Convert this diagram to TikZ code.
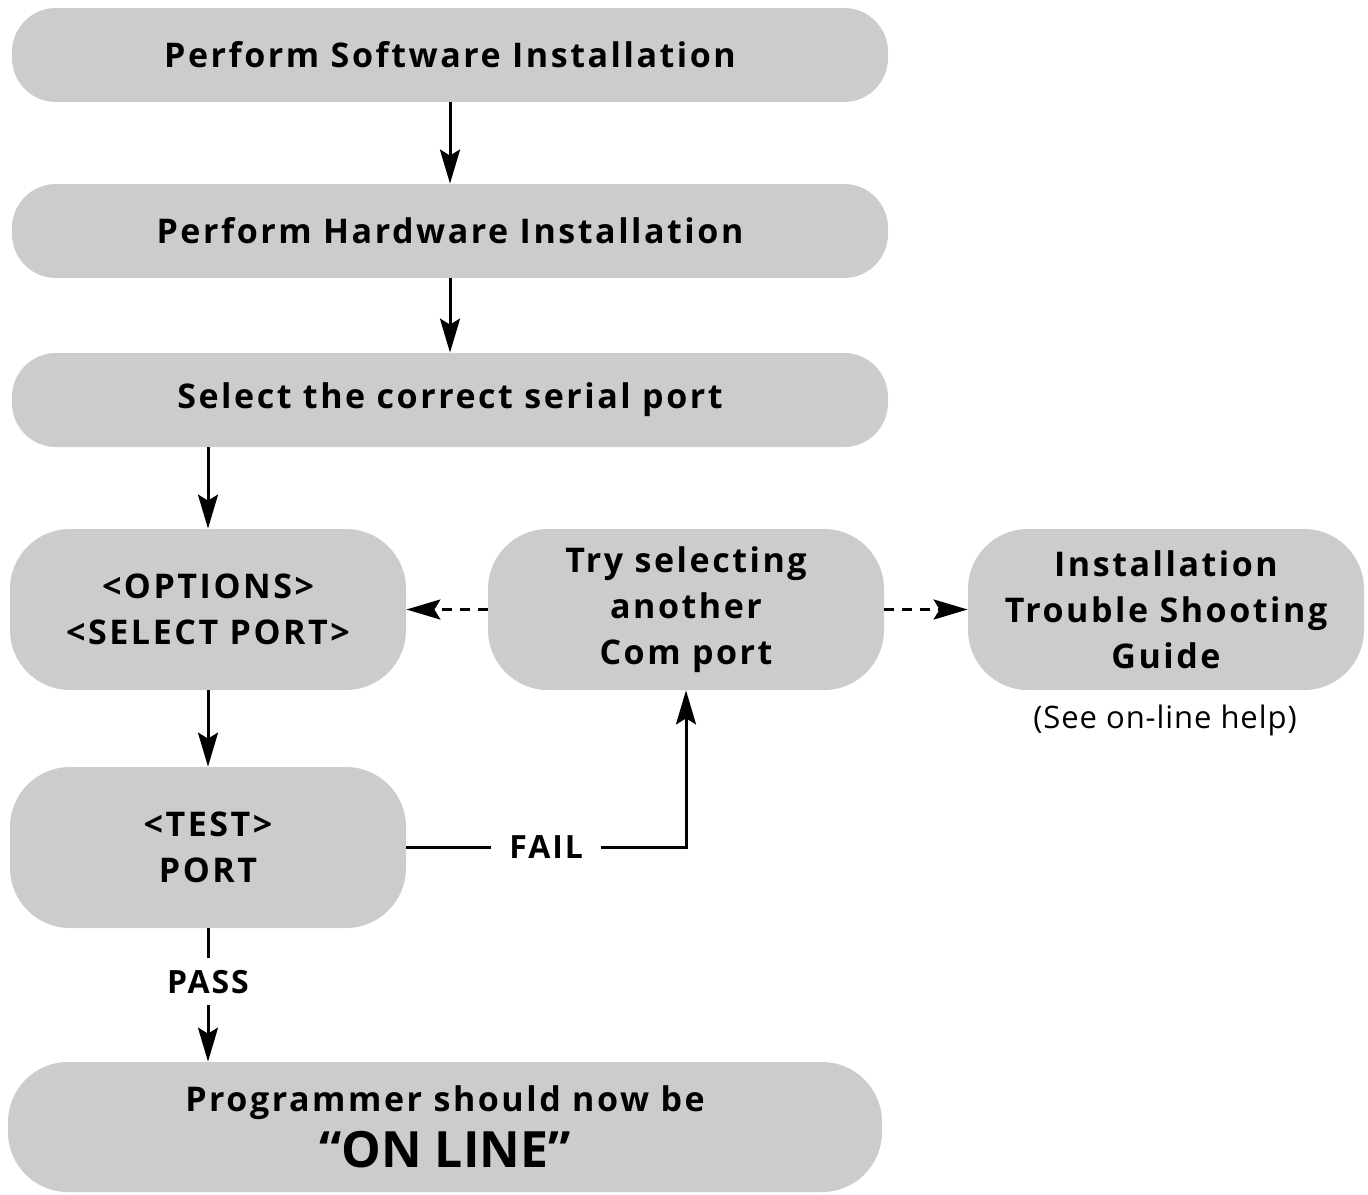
\documentclass[tikz,border=0pt]{standalone}
\usepackage{fontspec}
\setmainfont{Open Sans}
\usetikzlibrary{arrows.meta}

\begin{document}
\begin{tikzpicture}[x=0.5pt,y=-0.5pt]
\tikzstyle{passo} = [fill=gray!40, rounded corners=22pt, align=center, inner sep=0pt,
  font=\bfseries\fontsize{17}{23}\selectfont\addfontfeatures{LetterSpace=7.5}]
\tikzstyle{largo} = [passo, minimum width=438pt, minimum height=47pt]
\tikzstyle{alto} = [passo, rounded corners=30pt, minimum width=198pt, minimum height=80.5pt]
\tikzstyle{freccia} = [-{Stealth[length=17pt,width=10pt,inset=3pt]}, line width=1.5pt]
\tikzstyle{tratteggio} = [freccia, dash pattern=on 5pt off 4pt]
\tikzstyle{etichetta} = [fill=white, inner xsep=9pt,
  font=\bfseries\fontsize{16}{20}\selectfont\addfontfeatures{LetterSpace=6}]
\useasboundingbox (0,0) rectangle (1368,1194);
\node[largo] (sw) at (450,55) {Perform Software Installation};
\node[largo] (hw) at (450,231) {Perform Hardware Installation};
\node[largo] (port) at (450,400) {Select the correct serial port};
\node[alto] (opt) at (208,609.5) {<OPTIONS>\\<SELECT PORT>};
\node[alto] (try) at (686,609.5) {Try selecting\\another\\Com port};
\node[alto] (guide) at (1166,609.5) {Installation\\Trouble Shooting\\Guide};
\node[font=\fontsize{15.5}{18}\selectfont\addfontfeatures{LetterSpace=3}] (help) at (1165,720) {(See on-line help)};
\node[alto] (test) at (208,847.5) {<TEST>\\PORT};
\node[passo, rounded corners=30pt, minimum width=437pt, minimum height=65pt] (online) at (445,1127)
  {Programmer should now be\\[5pt]{\fontsize{25}{28}\selectfont\addfontfeatures{LetterSpace=0} “ON LINE”}};
\draw[freccia] (sw) -- (hw);
\draw[freccia] (hw) -- (port);
\draw[freccia] (port.south -| opt.north) -- (opt);
\draw[freccia] (opt) -- (test);
\draw[tratteggio] (try) -- (opt);
\draw[tratteggio] (try) -- (guide);
\draw[freccia] (test.east) -- node[etichetta] (fail) {FAIL} (test.east -| try.south) -- (try);
\draw[freccia] (test) -- node[etichetta, pos=0.4, inner xsep=3pt, inner ysep=6pt] (pass) {PASS} (test.south |- online.north);
\end{tikzpicture}
\end{document}
